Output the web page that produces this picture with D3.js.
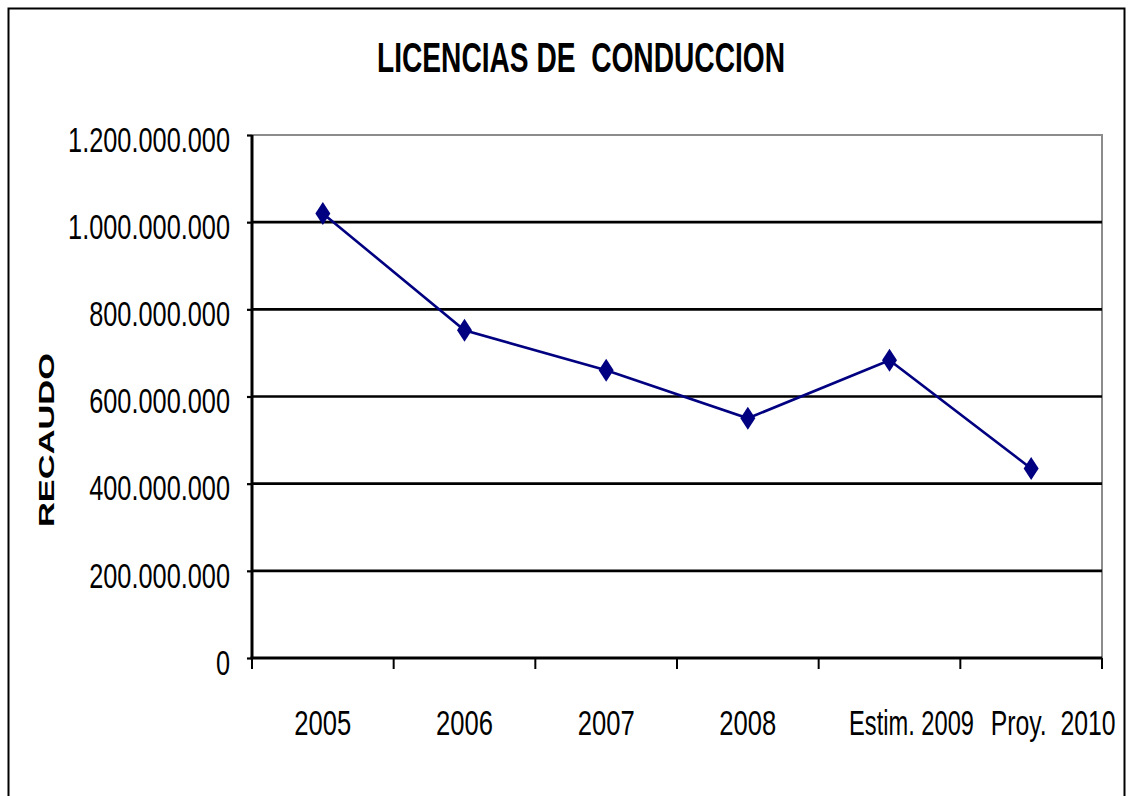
<!DOCTYPE html>
<html>
<head>
<meta charset="utf-8">
<script src="https://cdn.jsdelivr.net/npm/d3@7/dist/d3.min.js"></script>
<style>
  html, body { margin: 0; padding: 0; background: #fff; }
  svg { display: block; }
  text { font-family: "Liberation Sans Narrow", "Arial Narrow", "Liberation Sans", Arial, sans-serif; }
</style>
</head>
<body>
<svg id="chart" width="1130" height="796"></svg>
<script>
const title = "LICENCIAS DE  CONDUCCION";
const yTitle = "RECAUDO";
const categories = ["2005", "2006", "2007", "2008", "Estim. 2009", "Proy.  2010"];
const values = [1020000000, 752000000, 660000000, 550000000, 683000000, 435000000];
const yTicks = [0, 200000000, 400000000, 600000000, 800000000, 1000000000, 1200000000];

const svg = d3.select("#chart");
const plot = { left: 252, right: 1102, top: 135, bottom: 658 };

// outer chart border
svg.append("rect")
  .attr("x", 8.5).attr("y", 8.5)
  .attr("width", 1116).attr("height", 800)
  .attr("fill", "#fff").attr("stroke", "#000").attr("stroke-width", 2);

const x = d3.scaleBand().domain(categories).range([plot.left, plot.right]).padding(0);
const y = d3.scaleLinear().domain([0, 1200000000]).range([plot.bottom, plot.top]);

const loc = d3.formatLocale({ decimal: ",", thousands: ".", grouping: [3], currency: ["", ""] });
const fmt = loc.format(",.0f");

// plot area border (gray top & right)
svg.append("path")
  .attr("d", `M${plot.left},${plot.top}H${plot.right}V${plot.bottom}`)
  .attr("fill", "none").attr("stroke", "#8c8c8c").attr("stroke-width", 2);

// gridlines
svg.append("g").selectAll("line")
  .data(yTicks.filter(t => t > 0 && t < 1200000000))
  .join("line")
  .attr("x1", plot.left).attr("x2", plot.right)
  .attr("y1", d => y(d)).attr("y2", d => y(d))
  .attr("stroke", "#000").attr("stroke-width", 2.6);

// y axis
const yAxis = svg.append("g")
  .attr("transform", `translate(${plot.left},0)`)
  .call(d3.axisLeft(y).tickValues(yTicks).tickFormat(fmt).tickSize(5).tickPadding(17));
yAxis.select(".domain").attr("stroke", "#000").attr("stroke-width", 3).attr("d", `M0,${plot.top}V${plot.bottom}`);
yAxis.selectAll(".tick line").attr("stroke", "#000").attr("stroke-width", 2.2);
yAxis.selectAll(".tick text")
  .attr("font-size", 36).attr("fill", "#000").attr("dy", "0.45em")
  .attr("font-family", '"Liberation Sans Narrow", "Arial Narrow", "Liberation Sans", Arial, sans-serif');

// compress y labels horizontally (anchored at their right end)
(function () {
  const texts = yAxis.selectAll(".tick text").nodes();
  let wmax = 0;
  texts.forEach(n => { wmax = Math.max(wmax, n.getComputedTextLength()); });
  const ratio = 162 / wmax;
  texts.forEach(n => {
    const xr = +n.getAttribute("x");
    n.setAttribute("transform", `translate(${xr},0) scale(${ratio},1) translate(${-xr},0)`);
  });
})();

// x axis line
svg.append("line")
  .attr("x1", plot.left - 1.5).attr("x2", plot.right)
  .attr("y1", plot.bottom).attr("y2", plot.bottom)
  .attr("stroke", "#000").attr("stroke-width", 3);

// x ticks at category boundaries
const bounds = categories.map(c => x(c)).concat([plot.right]);
svg.append("g").selectAll("line")
  .data(bounds)
  .join("line")
  .attr("x1", d => d).attr("x2", d => d)
  .attr("y1", plot.bottom).attr("y2", plot.bottom + 11)
  .attr("stroke", "#000").attr("stroke-width", 2);

// x labels
const xg = svg.append("g").selectAll("g")
  .data(categories)
  .join("g")
  .attr("transform", d => `translate(${x(d) + x.bandwidth() / 2 + (d.length > 4 ? 22 : 0)},735)`);
const xl = xg.append("text")
  .attr("text-anchor", "middle")
  .attr("font-size", 35)
  .attr("fill", "#000")
  .style("white-space", "pre")
  .text(d => d);
(function () {
  const nodes = xl.nodes();
  const ratio = 57 / nodes[0].getComputedTextLength();
  nodes.forEach(n => {
    const w = n.getComputedTextLength();
    const r = Math.min(ratio, 125 / w);
    n.setAttribute("transform", `scale(${r},1)`);
  });
})();

// line
const line = d3.line()
  .x((d, i) => x(categories[i]) + x.bandwidth() / 2)
  .y(d => y(d));
svg.append("path")
  .datum(values)
  .attr("d", line)
  .attr("fill", "none")
  .attr("stroke", "#000080")
  .attr("stroke-width", 2.6);

// diamond markers
svg.append("g").selectAll("path")
  .data(values)
  .join("path")
  .attr("transform", (d, i) => `translate(${x(categories[i]) + x.bandwidth() / 2},${y(d)})`)
  .attr("d", "M0,-11.5L7.5,0L0,11.5L-7.5,0Z")
  .attr("fill", "#000080");

// title
svg.append("text")
  .attr("x", 581).attr("y", 72)
  .attr("text-anchor", "middle")
  .attr("font-size", 42)
  .attr("font-weight", "bold")
  .attr("fill", "#000")
  .style("white-space", "pre")
  .attr("textLength", 408)
  .attr("lengthAdjust", "spacingAndGlyphs")
  .text(title);

// y axis title
svg.append("text")
  .attr("transform", "translate(54,440) rotate(-90)")
  .attr("text-anchor", "middle")
  .attr("font-size", 22)
  .attr("font-weight", "bold")
  .attr("fill", "#000")
  .style("font-family", '"Liberation Sans", Arial, sans-serif')
  .attr("textLength", 174)
  .attr("lengthAdjust", "spacingAndGlyphs")
  .text(yTitle);
</script>
</body>
</html>
